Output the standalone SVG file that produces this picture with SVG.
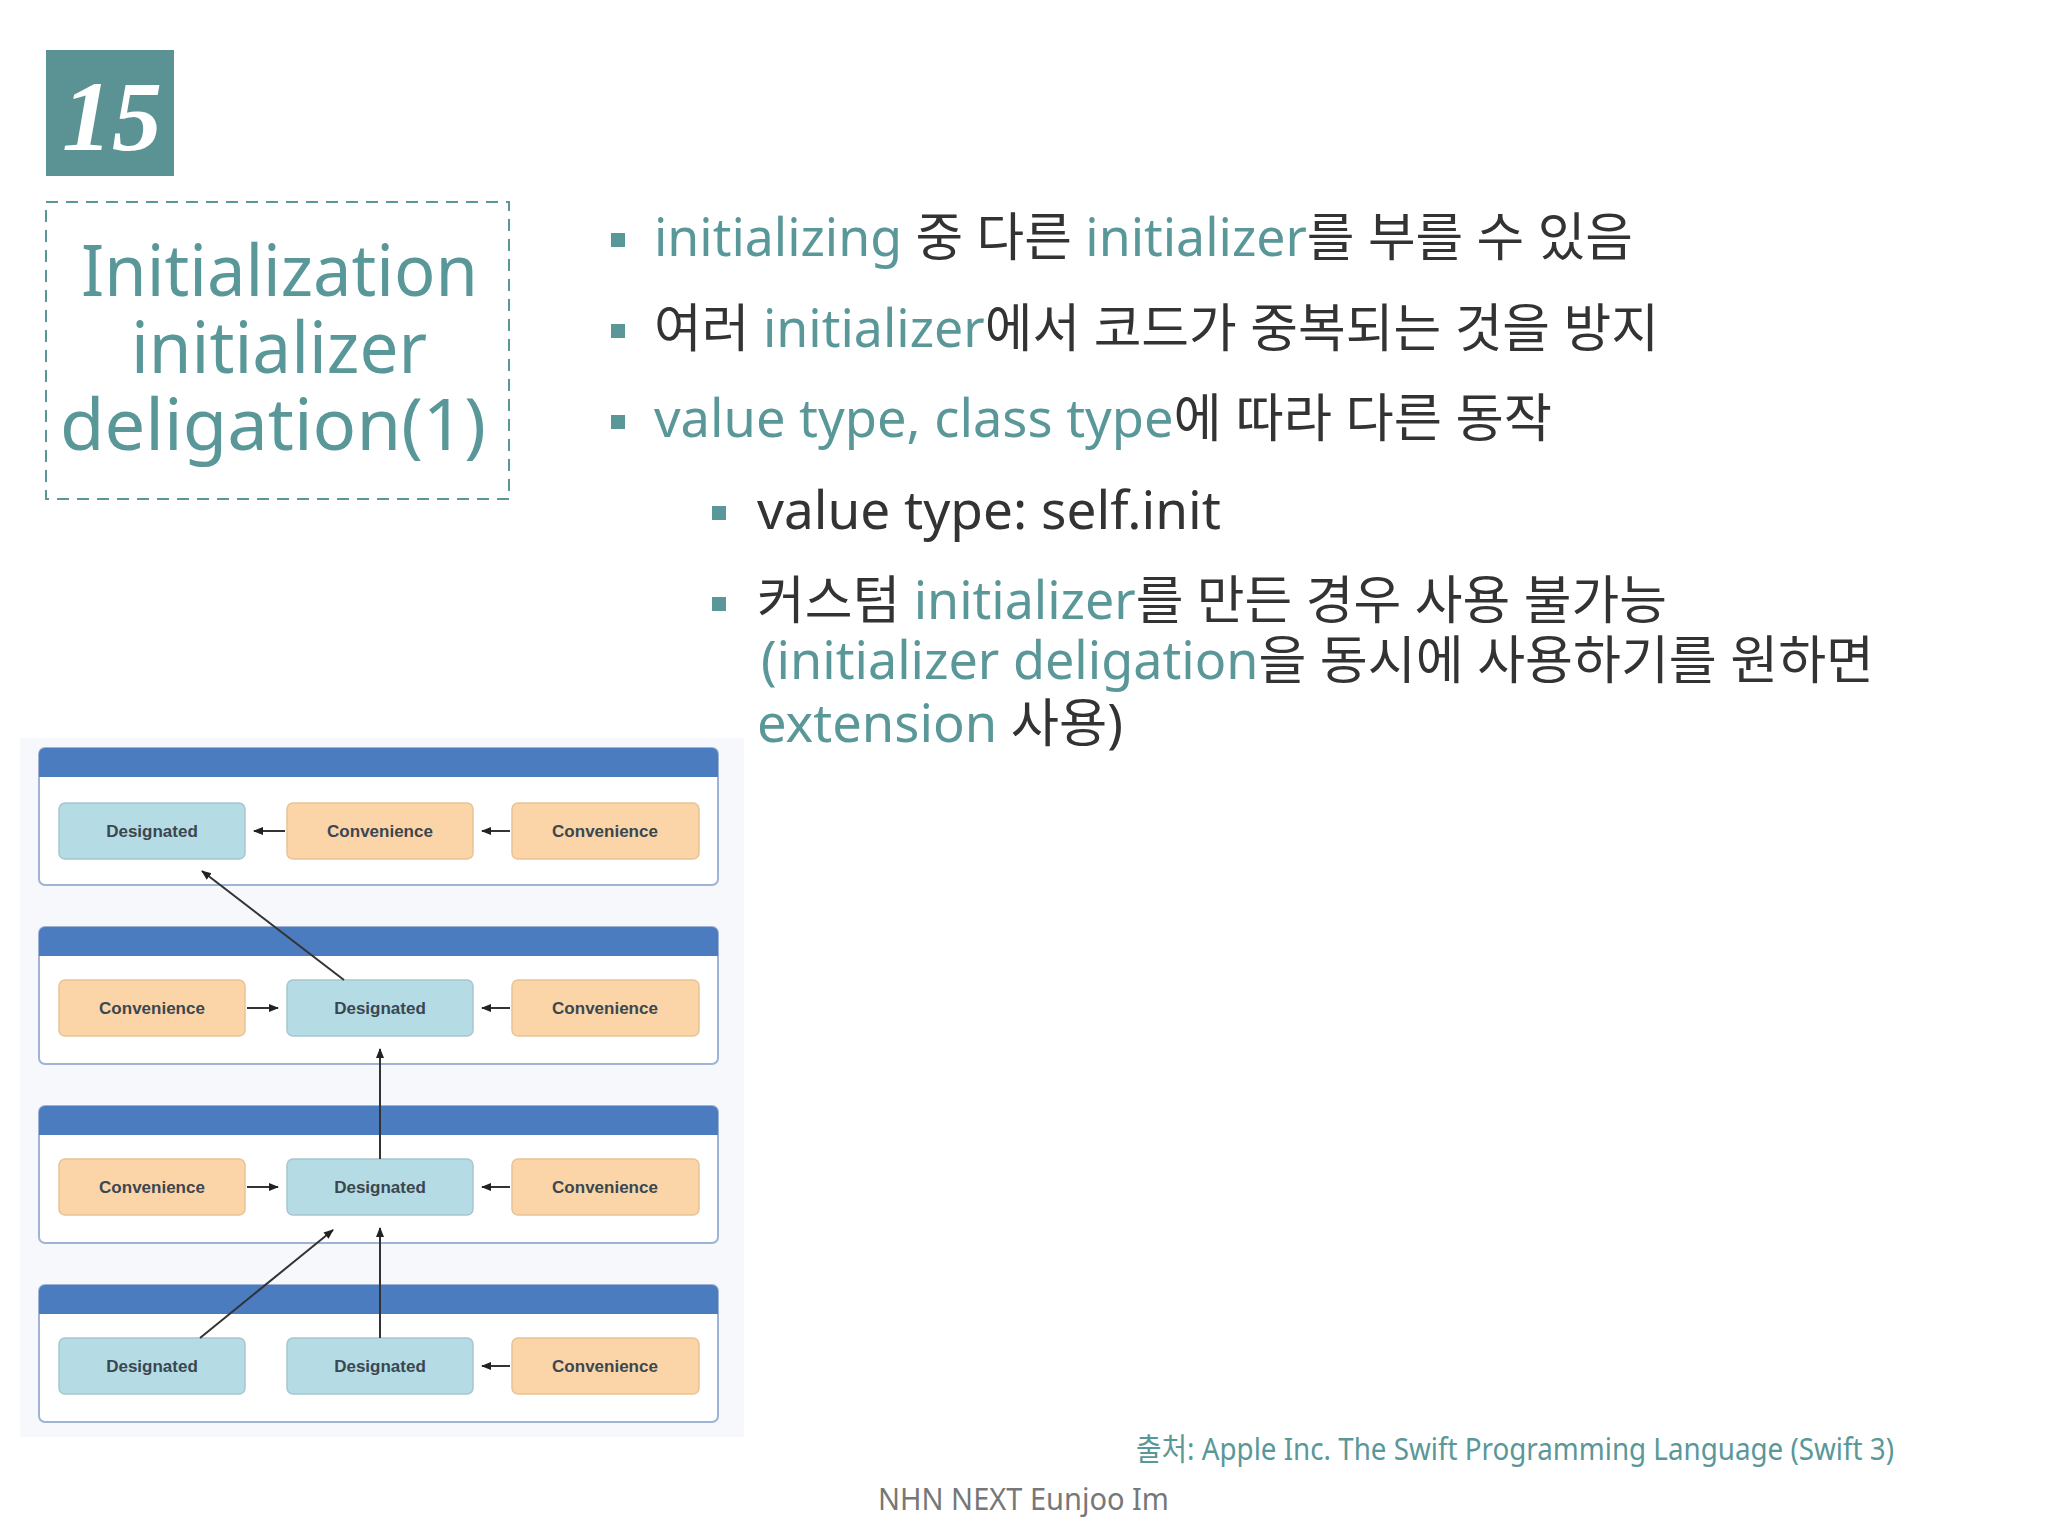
<svg xmlns="http://www.w3.org/2000/svg" width="2048" height="1536" viewBox="0 0 2048 1536">
<defs>
<marker id="ah" viewBox="0 0 10 10" refX="9" refY="5" markerWidth="5" markerHeight="5" orient="auto"><path d="M0,1 L10,5 L0,9 z" fill="#222"/></marker>
</defs>
<style>
.t{font-family:"Noto Sans","Noto Sans CJK KR",sans-serif}
.teal{fill:#5a9799}
.dark{fill:#333}
.title{font-size:72px;fill:#5a9799}
.body{font-size:52px}
.panel{fill:#fff;stroke:#9fb3d6;stroke-width:2}
.hdr{fill:#4b7cc0}
.des{fill:#b5dbe4;stroke:#a7c6cf;stroke-width:1.5}
.con{fill:#fbd5a8;stroke:#e8c394;stroke-width:1.5}
.lbl{font-family:"Liberation Sans",Arial,sans-serif;font-size:17px;font-weight:bold;fill:#3a4750;text-anchor:middle}
.c{stroke:#333;stroke-width:2;fill:none;marker-end:url(#ah)}
.sq{fill:#5a9799}
</style>
<rect width="2048" height="1536" fill="#fff"/>
<g id="badge"><rect x="46" y="50" width="128" height="126" fill="#5b9395"/>
<text x="112" y="150" font-family="Liberation Serif,serif" font-style="italic" font-weight="bold" font-size="100" fill="#fff" text-anchor="middle">15</text></g>
<g id="titlebox"><rect x="46" y="202" width="463" height="297" fill="none" stroke="#5a9799" stroke-width="2" stroke-dasharray="12,8"/>
<text class="t title" x="81" y="296" textLength="397" lengthAdjust="spacingAndGlyphs">Initialization</text>
<text class="t title" x="131" y="373" textLength="296" lengthAdjust="spacingAndGlyphs">initializer</text>
<text class="t title" x="60" y="450" textLength="426" lengthAdjust="spacingAndGlyphs">deligation(1)</text></g>
<g id="bullets">
<rect class="sq" x="611" y="233" width="14" height="14"/>
<rect class="sq" x="611" y="324" width="14" height="14"/>
<rect class="sq" x="611" y="415" width="14" height="14"/>
<rect class="sq" x="712" y="506" width="14" height="14"/>
<rect class="sq" x="712" y="597" width="14" height="14"/>
<text class="t body" x="654" y="256" textLength="979" lengthAdjust="spacingAndGlyphs"><tspan class="teal">initializing</tspan><tspan class="dark"> 중 다른 </tspan><tspan class="teal">initializer</tspan><tspan class="dark">를 부를 수 있음</tspan></text>
<text class="t body" x="654" y="347" textLength="1005" lengthAdjust="spacingAndGlyphs"><tspan class="dark">여러 </tspan><tspan class="teal">initializer</tspan><tspan class="dark">에서 코드가 중복되는 것을 방지</tspan></text>
<text class="t body" x="654" y="437" textLength="898" lengthAdjust="spacingAndGlyphs"><tspan class="teal">value type, class type</tspan><tspan class="dark">에 따라 다른 동작</tspan></text>
<text class="t body dark" x="757" y="529" textLength="464" lengthAdjust="spacingAndGlyphs">value type: self.init</text>
<text class="t body" x="757" y="619" textLength="910" lengthAdjust="spacingAndGlyphs"><tspan class="dark">커스텀 </tspan><tspan class="teal">initializer</tspan><tspan class="dark">를 만든 경우 사용 불가능</tspan></text>
<text class="t body" x="761" y="679" textLength="1113" lengthAdjust="spacingAndGlyphs"><tspan class="teal">(initializer deligation</tspan><tspan class="dark">을 동시에 사용하기를 원하면</tspan></text>
<text class="t body" x="757" y="742" textLength="366" lengthAdjust="spacingAndGlyphs"><tspan class="teal">extension</tspan><tspan class="dark"> 사용)</tspan></text>
</g>
<g id="diagram">
<rect x="20" y="738" width="724" height="699" fill="#f7f8fb"/>
<g id="p1"><rect class="panel" x="39" y="748" width="679" height="137" rx="6"/><path class="hdr" d="M45,748 H712 a6,6 0 0 1 6,6 V777 H39 V754 a6,6 0 0 1 6,-6z"/></g>
<g id="p2"><rect class="panel" x="39" y="927" width="679" height="137" rx="6"/><path class="hdr" d="M45,927 H712 a6,6 0 0 1 6,6 V956 H39 V933 a6,6 0 0 1 6,-6z"/></g>
<g id="p3"><rect class="panel" x="39" y="1106" width="679" height="137" rx="6"/><path class="hdr" d="M45,1106 H712 a6,6 0 0 1 6,6 V1135 H39 V1112 a6,6 0 0 1 6,-6z"/></g>
<g id="p4"><rect class="panel" x="39" y="1285" width="679" height="137" rx="6"/><path class="hdr" d="M45,1285 H712 a6,6 0 0 1 6,6 V1314 H39 V1291 a6,6 0 0 1 6,-6z"/></g>
<g id="r1a"><rect class="des" x="59" y="803" width="186" height="56" rx="6"/><text class="lbl" x="152" y="837">Designated</text></g>
<g id="r1b"><rect class="con" x="287" y="803" width="186" height="56" rx="6"/><text class="lbl" x="380" y="837">Convenience</text></g>
<g id="r1c"><rect class="con" x="512" y="803" width="187" height="56" rx="6"/><text class="lbl" x="605" y="837">Convenience</text></g>
<g id="r2a"><rect class="con" x="59" y="980" width="186" height="56" rx="6"/><text class="lbl" x="152" y="1014">Convenience</text></g>
<g id="r2b"><rect class="des" x="287" y="980" width="186" height="56" rx="6"/><text class="lbl" x="380" y="1014">Designated</text></g>
<g id="r2c"><rect class="con" x="512" y="980" width="187" height="56" rx="6"/><text class="lbl" x="605" y="1014">Convenience</text></g>
<g id="r3a"><rect class="con" x="59" y="1159" width="186" height="56" rx="6"/><text class="lbl" x="152" y="1193">Convenience</text></g>
<g id="r3b"><rect class="des" x="287" y="1159" width="186" height="56" rx="6"/><text class="lbl" x="380" y="1193">Designated</text></g>
<g id="r3c"><rect class="con" x="512" y="1159" width="187" height="56" rx="6"/><text class="lbl" x="605" y="1193">Convenience</text></g>
<g id="r4a"><rect class="des" x="59" y="1338" width="186" height="56" rx="6"/><text class="lbl" x="152" y="1372">Designated</text></g>
<g id="r4b"><rect class="des" x="287" y="1338" width="186" height="56" rx="6"/><text class="lbl" x="380" y="1372">Designated</text></g>
<g id="r4c"><rect class="con" x="512" y="1338" width="187" height="56" rx="6"/><text class="lbl" x="605" y="1372">Convenience</text></g>
</g>
<g id="connectors">
<line class="c" x1="285" y1="831" x2="254" y2="831"/>
<line class="c" x1="510" y1="831" x2="482" y2="831"/>
<line class="c" x1="247" y1="1008" x2="278" y2="1008"/>
<line class="c" x1="510" y1="1008" x2="482" y2="1008"/>
<line class="c" x1="247" y1="1187" x2="278" y2="1187"/>
<line class="c" x1="510" y1="1187" x2="482" y2="1187"/>
<line class="c" x1="510" y1="1366" x2="482" y2="1366"/>
<line class="c" x1="344" y1="980" x2="202" y2="871"/>
<line class="c" x1="380" y1="1159" x2="380" y2="1049"/>
<line class="c" x1="380" y1="1338" x2="380" y2="1228"/>
<line class="c" x1="200" y1="1338" x2="333" y2="1230"/>
</g>
<g id="footer">
<text class="t teal" x="1136" y="1460" font-size="31" textLength="758" lengthAdjust="spacingAndGlyphs">출처: Apple Inc. The Swift Programming Language (Swift 3)</text>
<text class="t" x="878" y="1510" font-size="30" fill="#777" textLength="291" lengthAdjust="spacingAndGlyphs">NHN NEXT Eunjoo Im</text>
</g>
</svg>
